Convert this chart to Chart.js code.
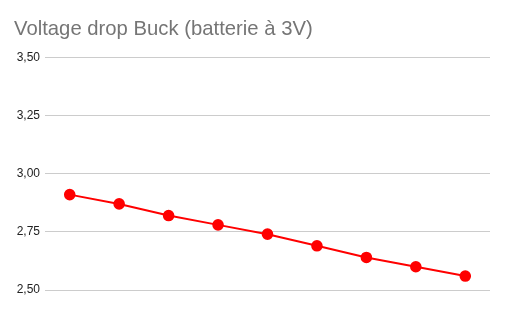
<!DOCTYPE html>
<html>
<head>
<meta charset="utf-8">
<script src="https://cdn.jsdelivr.net/npm/chart.js@4"></script>
<style>
html,body{margin:0;padding:0;background:#fff;}
#wrap{width:506px;height:313px;}
</style>
</head>
<body>
<div id="wrap"><canvas id="c" width="506" height="313"></canvas></div>
<script>
const titleText = "Voltage drop Buck (batterie à 3V)";
const categories = ["1", "2", "3", "4", "5", "6", "7", "8", "9"];
const voltages = [2.91, 2.87, 2.82, 2.78, 2.74, 2.69, 2.64, 2.60, 2.56];
const yTicks = [2.50, 2.75, 3.00, 3.25, 3.50];

new Chart(document.getElementById('c'), {
  type: 'line',
  data: {
    labels: categories,
    datasets: [{
      data: voltages,
      borderColor: '#ff0000',
      backgroundColor: '#ff0000',
      borderWidth: 2,
      pointRadius: 4.8,
      pointHoverRadius: 4.8,
      pointBackgroundColor: '#ff0000',
      pointBorderColor: '#ff0000',
      tension: 0
    }]
  },
  options: {
    responsive: false,
    animation: false,
    layout: { padding: { left: 14, right: 16, top: 0, bottom: 23 } },
    plugins: {
      legend: { display: false },
      tooltip: { enabled: false },
      title: {
        display: true,
        text: titleText,
        align: 'start',
        color: '#757575',
        font: { family: 'Liberation Sans, Arial, sans-serif', size: 20.3, weight: 'normal' },
        padding: { top: 17, bottom: 16 }
      }
    },
    scales: {
      x: {
        display: false,
        offset: true
      },
      y: {
        min: yTicks[0],
        max: yTicks[yTicks.length - 1],
        afterBuildTicks: (axis) => { axis.ticks = yTicks.map(v => ({ value: v })); },
        afterFit: (axis) => { axis.width = 31; },
        border: { display: false },
        grid: { color: '#cccccc', drawTicks: false, lineWidth: 1 },
        ticks: {
          padding: 5,
          color: '#222222',
          font: { family: 'Liberation Sans, Arial, sans-serif', size: 12 },
          callback: (v) => Number(v).toFixed(2).replace('.', ',')
        }
      }
    }
  }
});
</script>
</body>
</html>
